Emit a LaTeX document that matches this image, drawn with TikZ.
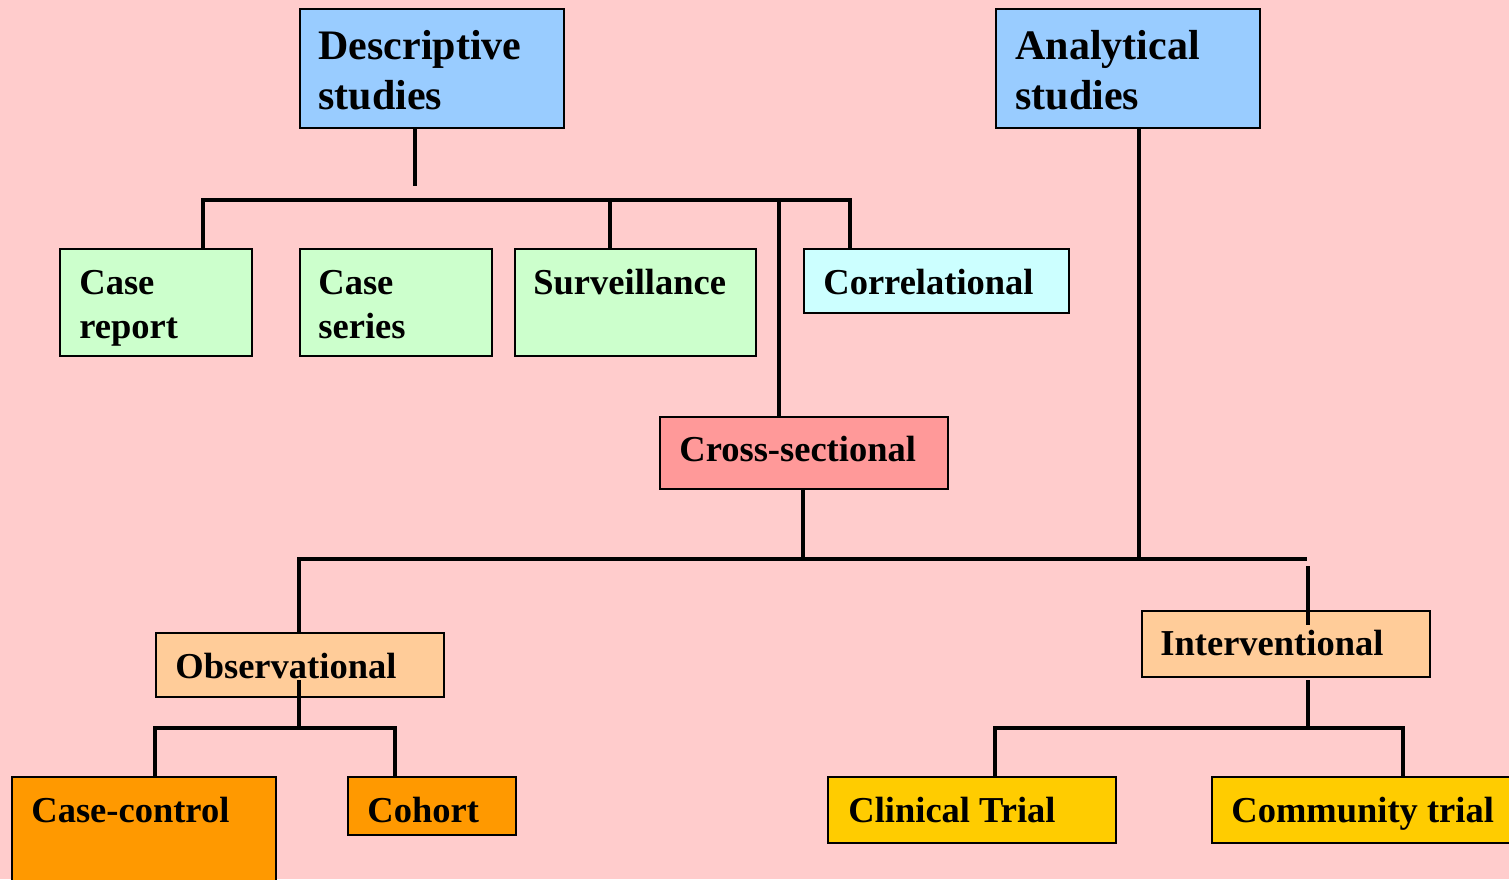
\documentclass[tikz,border=0pt]{standalone}
\usepackage{fontspec}
\setmainfont{Liberation Serif}
\definecolor{bgpink}{HTML}{FFCCCC}
\definecolor{cblue}{HTML}{99CCFF}
\definecolor{cgreen}{HTML}{CCFFCC}
\definecolor{ccyan}{HTML}{CCFFFF}
\definecolor{cred}{HTML}{FF9999}
\definecolor{cpeach}{HTML}{FFCC99}
\definecolor{corange}{HTML}{FF9900}
\definecolor{cgold}{HTML}{FFCC00}
\newcommand\mybox[6]{\node[box,fill=#2,anchor=north west,minimum width={(#5-#3)*0.5pt},minimum height={(#6-#4)*0.5pt}] (#1) at (#3,#4) {};}
\begin{document}
\begin{tikzpicture}[x=0.5pt,y=-0.5pt,
  box/.style={draw=black,line width=1pt,inner sep=0pt,rectangle},
  conn/.style={draw=black,line width=1.6pt},
  txt/.style={anchor=base west,inner sep=0pt,font=\bfseries\fontsize{18.25pt}{22pt}\selectfont},
  bigtxt/.style={anchor=base west,inner sep=0pt,font=\bfseries\fontsize{21pt}{25pt}\selectfont}]
\useasboundingbox (0,0) rectangle (1509,879);
\clip (0,0) rectangle (1509,879);
\fill[bgpink] (0,0) rectangle (1509,879);
% boxes
\mybox{desc}{cblue}{299}{8}{563}{127}
\mybox{anal}{cblue}{995}{8}{1259}{127}
\mybox{crep}{cgreen}{59}{248}{251}{355}
\mybox{cser}{cgreen}{299}{248}{491}{355}
\mybox{surv}{cgreen}{514}{248}{755}{355}
\mybox{corr}{ccyan}{803}{248}{1068}{312}
\mybox{cross}{cred}{659}{416}{947}{488}
\mybox{obs}{cpeach}{155}{632}{443}{696}
\mybox{intv}{cpeach}{1141}{610}{1429}{676}
\mybox{cc}{corange}{11}{776}{275}{895}
\mybox{coh}{corange}{347}{776}{515}{834}
\mybox{clin}{cgold}{827}{776}{1115}{842}
\mybox{comm}{cgold}{1211}{776}{1525}{842}
% texts
\node[bigtxt] (desc1) at (318,59) {Descriptive};
\node[bigtxt] (desc2) at (318,109) {studies};
\node[bigtxt] (anal1) at (1015,59) {Analytical};
\node[bigtxt] (anal2) at (1015,109) {studies};
\node[txt] (crep1) at (79,294) {Case};
\node[txt] (crep2) at (79,338) {report};
\node[txt] (cser1) at (318,294) {Case};
\node[txt] (cser2) at (318,338) {series};
\node[txt] (surv1) at (533,294) {Surveillance};
\node[txt] (corr1) at (823,294) {Correlational};
\node[txt] (cross1) at (679,461) {Cross-sectional};
\node[txt] (obs1) at (175,678) {Observational};
\node[txt] (intv1) at (1160,655) {Interventional};
\node[txt] (cc1) at (31,822) {Case-control};
\node[txt] (coh1) at (367,822) {Cohort};
\node[txt] (clin1) at (848,822) {Clinical Trial};
\node[txt] (comm1) at (1231,822) {Community trial};
% junction coordinates
\coordinate (d0) at (415,186);
\coordinate (b1) at (203,200);
\coordinate (b2) at (850,200);
\coordinate (b3) at (610,200);
\coordinate (b4) at (779,200);
\coordinate (m1) at (299,559);
\coordinate (m2) at (1307,559);
\coordinate (m3) at (803,559);
\coordinate (m4) at (1139,559);
\coordinate (i0) at (1308,566);
\coordinate (i1) at (1308,625);
\coordinate (o0) at (299,680);
\coordinate (o1) at (299,728);
\coordinate (o2) at (155,728);
\coordinate (o3) at (395,728);
\coordinate (n0) at (1308,680);
\coordinate (n1) at (1308,728);
\coordinate (n2) at (995,728);
\coordinate (n3) at (1403,728);
% connectors
\draw[conn] (desc.south -| d0) -- (d0);
\draw[conn] (crep.north -| b1) -- (b1) -- (b2) -- (corr.north -| b2);
\draw[conn] (b3) -- (surv.north -| b3);
\draw[conn] (b4) -- (cross.north -| b4);
\draw[conn] (cross.south -| m3) -- (m3);
\draw[conn] (anal.south -| m4) -- (m4);
\draw[conn] (obs.north -| m1) -- (m1) -- (m2);
\draw[conn] (i0) -- (i1);
\draw[conn] (o0) -- (o1);
\draw[conn] (cc.north -| o2) -- (o2) -- (o3) -- (coh.north -| o3);
\draw[conn] (n0) -- (n1);
\draw[conn] (clin.north -| n2) -- (n2) -- (n3) -- (comm.north -| n3);
\end{tikzpicture}
\end{document}
